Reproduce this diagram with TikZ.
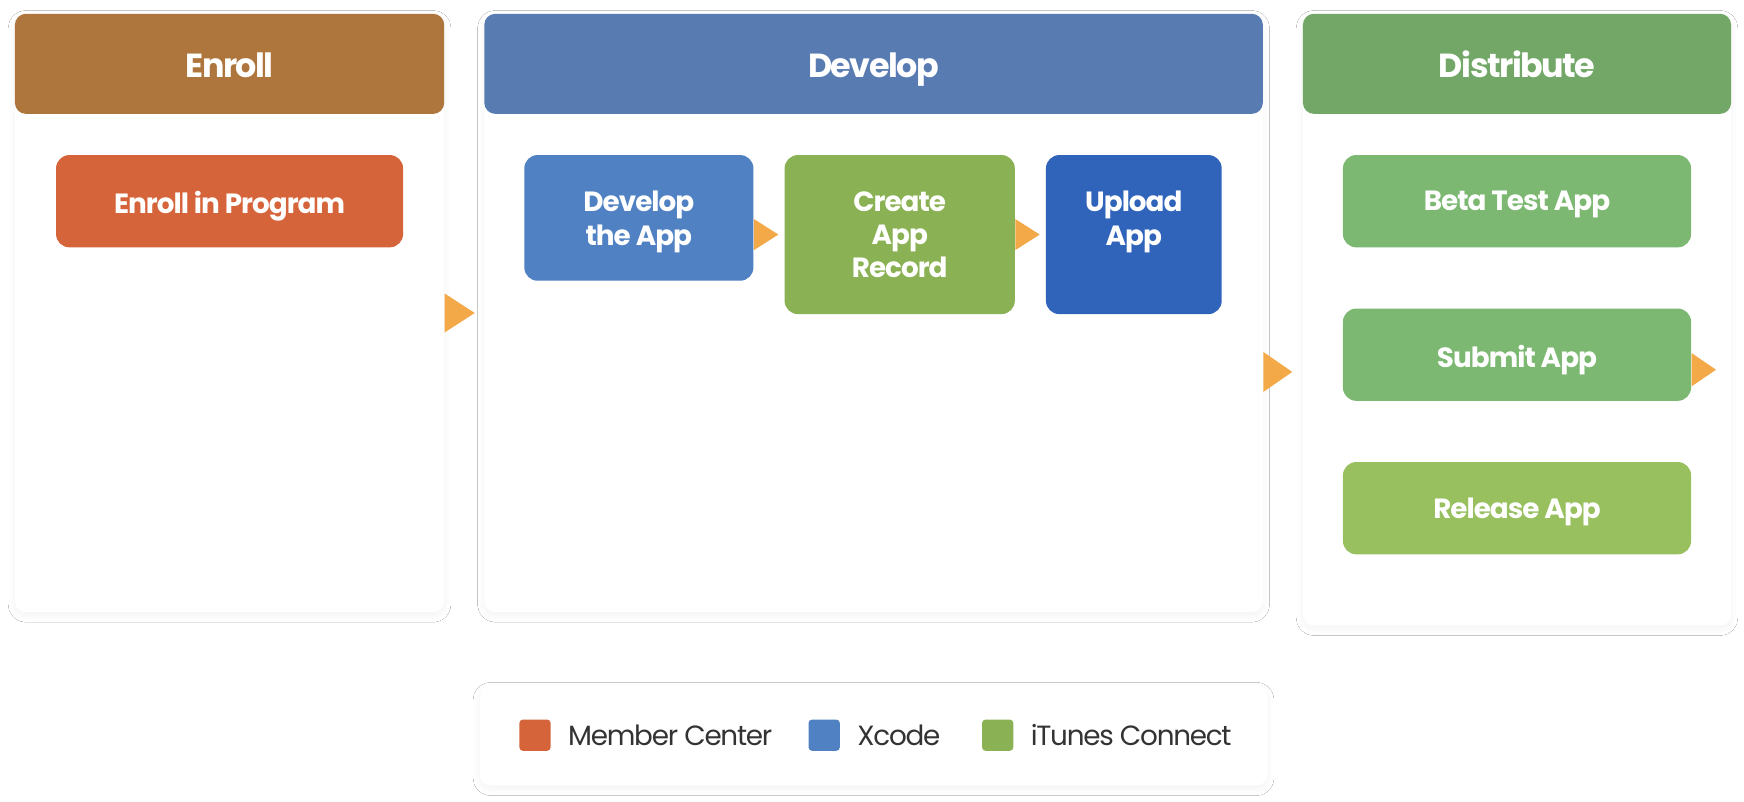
\documentclass[tikz,border=0pt]{standalone}
\usepackage{fontspec}
\setmainfont{Poppins}
\usetikzlibrary{positioning, shadows.blur}

\definecolor{enrollhd}{HTML}{AE763D}
\definecolor{develophd}{HTML}{587BB2}
\definecolor{distribhd}{HTML}{72A768}
\definecolor{membercol}{HTML}{D6643A}
\definecolor{xcodecol}{HTML}{4F81C3}
\definecolor{itunescol}{HTML}{8AB254}
\definecolor{uploadcol}{HTML}{3063BA}
\definecolor{betacol}{HTML}{7CB872}
\definecolor{releasecol}{HTML}{98C05E}
\definecolor{tipcol}{HTML}{F3A947}
\definecolor{keytextcol}{HTML}{333333}

\tikzset{
  panel/.style={fill=white, rounded corners=5pt, anchor=north west, inner sep=0pt,
    blur shadow={shadow xshift=0pt, shadow yshift=-1.5pt, shadow blur radius=3pt,
      shadow blur steps=12, shadow opacity=5}},
  header/.style={rounded corners=5pt, anchor=north west, minimum height=45pt, inner sep=0pt,
    text height=12pt, text depth=0pt, text=white,
    font=\fontsize{15}{18}\selectfont\bfseries\addfontfeatures{LetterSpace=-4.5}},
  stepbox/.style={rounded corners=6pt, anchor=north west, inner sep=0pt},
  boxtext/.style={text=white, align=center, inner sep=0pt,
    font=\fontsize{12.5}{15}\selectfont\bfseries\addfontfeatures{LetterSpace=-3.5}},
  tri/.style={fill=tipcol},
  key/.style={rounded corners=1.5pt, minimum size=14pt, inner sep=0pt},
  keylabel/.style={text=keytextcol, inner sep=0pt, anchor=west,
    font=\fontsize{12.5}{15}\selectfont\addfontfeatures{LetterSpace=-4.5}},
}

\begin{document}
\begin{tikzpicture}[x=0.5pt, y=-0.5pt]
    \useasboundingbox[fill=white] (0,0) rectangle (1568,721);
    % Panels
    \node[panel, minimum width=193pt, minimum height=269pt] (enroll) at (13,12) {};
    \node[panel, minimum width=350pt, minimum height=269pt] (develop) at (435,12) {};
    \node[panel, minimum width=192.5pt, minimum height=275pt] (distrib) at (1171,12) {};
    \node[header, fill=enrollhd, minimum width=193pt] (enroll-h) at (13,12) {Enroll};
    \node[header, fill=develophd, minimum width=350pt] (develop-h) at (435,12) {Develop};
    \node[header, fill=distribhd, minimum width=192.5pt] (distrib-h) at (1171,12) {Distribute};
    % Steps
    \node[stepbox, fill=membercol, minimum width=156pt, minimum height=41.5pt] (prog) at (50,139) {};
    \node[stepbox, fill=xcodecol, minimum width=103pt, minimum height=56.5pt] (dev) at (471,139) {};
    \node[stepbox, fill=itunescol, minimum width=103.5pt, minimum height=71.5pt] (create) at (705,139) {};
    \node[stepbox, fill=uploadcol, minimum width=79pt, minimum height=71.5pt] (upload) at (940,139) {};
    \node[stepbox, fill=betacol, minimum width=156.5pt, minimum height=41.5pt] (beta) at (1207,139) {};
    \node[stepbox, fill=betacol, minimum width=156.5pt, minimum height=41.5pt] (submit) at (1207,277) {};
    \node[stepbox, fill=releasecol, minimum width=156.5pt, minimum height=41.5pt] (release) at (1207,415) {};
    % Step labels
    \node[boxtext, below=16.3pt of prog.north] (prog-t) {Enroll in Program};
    \node[boxtext, below=16.3pt of dev.north] (dev-t) {Develop\\the App};
    \node[boxtext, below=16.3pt of create.north] (create-t) {Create\\App\\Record};
    \node[boxtext, below=16.3pt of upload.north] (upload-t) {Upload\\App};
    \node[boxtext, below=16.3pt of beta.north] (beta-t) {Beta Test App};
    \node[boxtext, below=16.3pt of submit.north] (submit-t) {Submit App};
    \node[boxtext, below=16.3pt of release.north] (release-t) {Release App};
    % Arrow tips
    \coordinate (dc) at (dev.east |- create.east);
    \coordinate (dd) at ([yshift=-26.5pt]develop.east);
    \coordinate (ss) at ([yshift=-6.75pt]submit.east);
    \fill[tri] ([yshift=8.75pt]enroll.east) -- ([xshift=13.5pt]enroll.east) -- ([yshift=-8.75pt]enroll.east) -- cycle;
    \fill[tri] ([yshift=9pt]dd) -- ([xshift=13pt]dd) -- ([yshift=-9pt]dd) -- cycle;
    \fill[tri] ([yshift=7pt]dc) -- ([xshift=11pt]dc) -- ([yshift=-7pt]dc) -- cycle;
    \fill[tri] ([yshift=7pt]create.east) -- ([xshift=11pt]create.east) -- ([yshift=-7pt]create.east) -- cycle;
    \fill[tri] ([yshift=7.5pt]ss) -- ([xshift=11pt]ss) -- ([yshift=-7.5pt]ss) -- cycle;
    % Legend
    \node[panel, minimum width=354pt, minimum height=45pt] (legend) at (431,616) {};
    \node[key, fill=membercol] (k1) at (481,661) {};
    \node[key, fill=xcodecol] (k2) at (741,661) {};
    \node[key, fill=itunescol] (k3) at (897,661) {};
    \node[keylabel, right=7.5pt of k1] (k1-t) {Member Center};
    \node[keylabel, right=7.5pt of k2] (k2-t) {Xcode};
    \node[keylabel, right=7.5pt of k3] (k3-t) {iTunes Connect};
\end{tikzpicture}
\end{document}
